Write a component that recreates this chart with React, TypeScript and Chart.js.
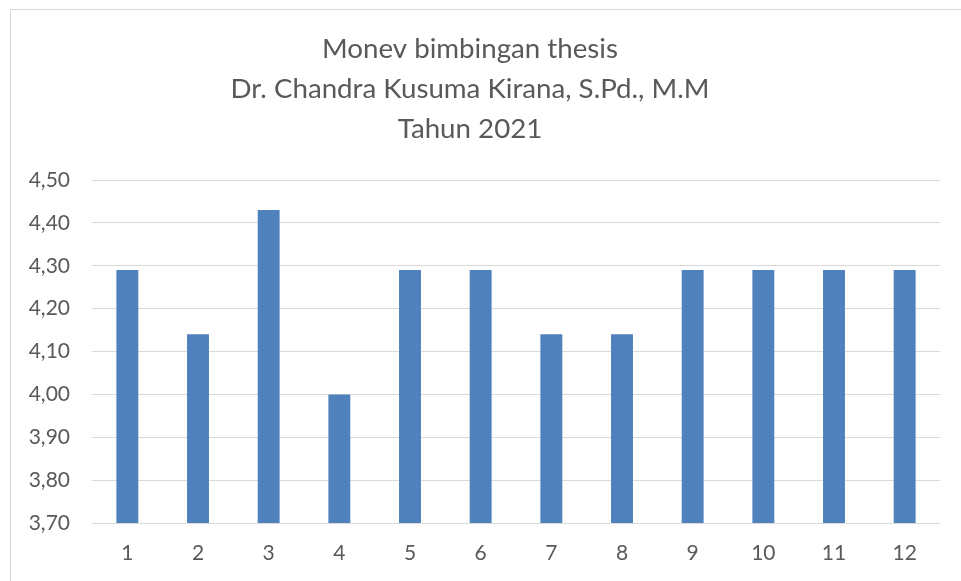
import React, { useEffect, useRef } from "react";
import { Chart, registerables } from "chart.js";

Chart.register(...registerables);

const categories = ["1", "2", "3", "4", "5", "6", "7", "8", "9", "10", "11", "12"];
const scores = [4.29, 4.14, 4.43, 4.0, 4.29, 4.29, 4.14, 4.14, 4.29, 4.29, 4.29, 4.29];
const titleLines = ["Monev bimbingan thesis", "Dr. Chandra Kusuma Kirana, S.Pd., M.M", "Tahun 2021"];
const yMin = 3.7;
const yMax = 4.5;
const yStep = 0.1;

export default function App() {
  const canvasRef = useRef<HTMLCanvasElement | null>(null);

  useEffect(() => {
    const ctx = canvasRef.current;
    if (!ctx) return;
    const chart = new Chart(ctx, {
      type: "bar",
      data: {
        labels: categories,
        datasets: [
          {
            data: scores,
            backgroundColor: "#4f81bd",
            borderWidth: 0,
            barPercentage: 0.31,
            categoryPercentage: 1,
          },
        ],
      },
      options: {
        animation: false,
        responsive: false,
        maintainAspectRatio: false,
        layout: { padding: { left: 0, right: 21, top: 0, bottom: 0 } },
        plugins: {
          legend: { display: false },
          tooltip: { enabled: false },
          title: {
            display: true,
            text: titleLines,
            color: "#595959",
            font: { family: "Lato", size: 27.7, weight: "normal", lineHeight: 40 / 27.7 },
            padding: { top: 29, bottom: 31 },
          },
        },
        scales: {
          x: {
            grid: { display: false, drawTicks: false },
            border: { display: false },
            ticks: {
              color: "#595959",
              font: { family: "Lato", size: 21 },
              padding: 18,
            },
            afterFit: (scale: any) => {
              scale.height = 58;
            },
          },
          y: {
            min: yMin,
            max: yMax,
            grid: { color: "#d9d9d9", lineWidth: 1, drawTicks: false },
            border: { display: false },
            ticks: {
              stepSize: yStep,
              color: "#595959",
              font: { family: "Lato", size: 21 },
              padding: 22,
              callback: (v: any) => Number(v).toFixed(2).replace(".", ","),
            },
            afterFit: (scale: any) => {
              scale.width = 92;
            },
          },
        },
      },
    });
    return () => chart.destroy();
  }, []);

  return (
    <div
      style={{
        position: "fixed",
        left: 0,
        top: 0,
        width: 961,
        height: 581,
        overflow: "hidden",
        background: "#ffffff",
      }}
    >
      <div
        style={{
          position: "absolute",
          left: 10,
          top: 9,
          width: 1000,
          height: 700,
          borderLeft: "1px solid #d9d9d9",
          borderTop: "1px solid #d9d9d9",
        }}
      />
      <canvas
        ref={canvasRef}
        width={961}
        height={581}
        style={{ position: "absolute", left: 0, top: 0, width: 961, height: 581 }}
      />
    </div>
  );
}
